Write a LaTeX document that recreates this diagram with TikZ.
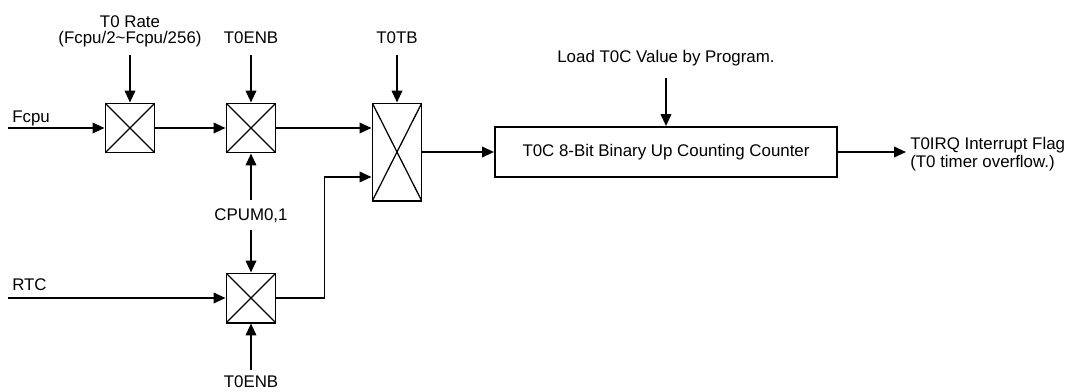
\documentclass[tikz,border=0pt]{standalone}
\usepackage{fontspec}
\setmainfont{Liberation Sans}
\usetikzlibrary{arrows.meta}
\usetikzlibrary{calc}
\tikzset{sig/.style = {line width=1.4pt, -{Triangle[length=8.5pt, width=7.5pt]}}}
\tikzset{xbox/.style = {draw, line width=1.4pt, inner sep=0, minimum width=1.225cm, minimum height=1.225cm,
                        path picture={\draw [line width=0.9pt] (path picture bounding box.north west) -- (path picture bounding box.south east)
                                                               (path picture bounding box.south west) -- (path picture bounding box.north east);}}}
\tikzset{lbl/.style = {inner sep=0, font=\fontsize{12}{12.8}\selectfont}}

\begin{document}
\begin{tikzpicture}[x=0.025cm, y=-0.025cm]
      \useasboundingbox (0,0) rectangle (1072,391);

      \node [xbox] (rate) at (130,128) {};
      \node [xbox] (enb) at (251,128) {};
      \node [xbox, minimum height=2.425cm] (mux) at (397,152) {};
      \node [xbox] (rtcsw) at (251,298) {};
      \node [lbl, draw, line width=1.4pt, minimum width=8.55cm, minimum height=1.25cm] (cnt) at (666,152) {T0C 8-Bit Binary Up Counting Counter};

      \node [lbl, anchor=base west] (fcpu) at (12,122) {Fcpu};
      \node [lbl, anchor=base west] (rtc) at (12,290) {RTC};
      \node [lbl, align=center, anchor=south, font=\fontsize{12}{11.4}\selectfont] (rate lbl) at (130,47) {T0 Rate\\(Fcpu/2\textasciitilde Fcpu/256)};
      \node [lbl, anchor=base] (enb lbl) at (251,43) {T0ENB};
      \node [lbl, anchor=base] (tb lbl) at (397,43) {T0TB};
      \node [lbl, anchor=base] (cpum) at (251,220) {CPUM0,1};
      \node [lbl, anchor=base] (enb lbl2) at (251,387) {T0ENB};
      \node [lbl, anchor=base] (load) at (666,62) {Load T0C Value by Program.};
      \node [lbl, align=left, anchor=north west] (irq) at (910,137) {T0IRQ Interrupt Flag\\(T0 timer overflow.)};

      \coordinate (fcpu in) at (8,128);
      \coordinate (rtc in) at (8,298);
      \coordinate (irq tip) at (906,152);

      \draw [sig] (fcpu in) -- (rate.west);
      \draw [sig] (rate.east) -- (enb.west);
      \draw [sig] (enb.east) -- (enb.east -| mux.west);
      \draw [sig] (rtc in) -- (rtcsw.west);
      \draw [sig] (rtcsw.east) -- ++(48,0) |- ($(mux.west)+(0,25)$);
      \draw [sig] (mux.east) -- (cnt.west);
      \draw [sig] (cnt.east) -- (irq tip);

      \draw [sig] ($(rate lbl.south)+(0,8)$) -- (rate.north);
      \draw [sig] ($(enb lbl.base)+(0,12)$) -- (enb.north);
      \draw [sig] ($(tb lbl.base)+(0,12)$) -- (mux.north);
      \draw [sig] ($(cpum.base)+(0,-20)$) -- (enb.south);
      \draw [sig] ($(cpum.base)+(0,10)$) -- (rtcsw.north);
      \draw [sig] ($(enb lbl2.base)+(0,-17)$) -- (rtcsw.south);
      \draw [sig] ($(load.base)+(0,16)$) -- (cnt.north);
\end{tikzpicture}
\end{document}
